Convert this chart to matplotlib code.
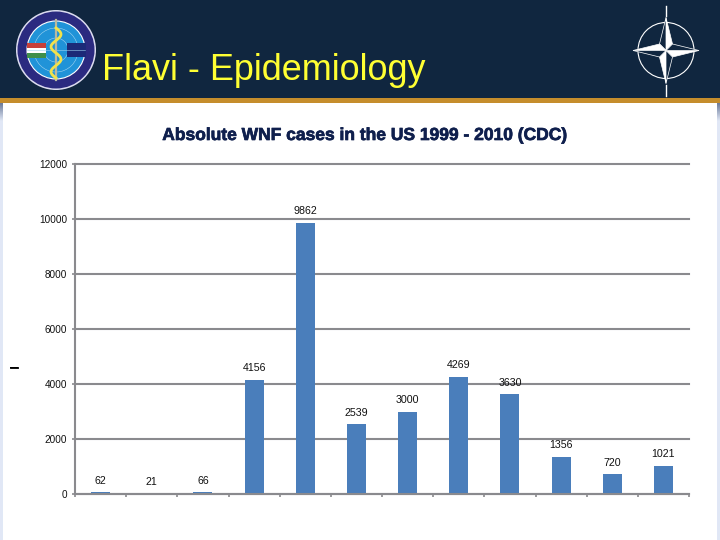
import numpy as np
import matplotlib
matplotlib.use("Agg")
import matplotlib.pyplot as plt
import matplotlib.patheffects as pe
from matplotlib.colors import LinearSegmentedColormap
from matplotlib.patches import Circle, Polygon, Rectangle

plt.rcParams['font.family'] = ['Liberation Sans', 'DejaVu Sans']

years = [1999, 2000, 2001, 2002, 2003, 2004, 2005, 2006, 2007, 2008, 2009, 2010]
cases = [62, 21, 66, 4156, 9862, 2539, 3000, 4269, 3630, 1356, 720, 1021]
y_ticks = [0, 2000, 4000, 6000, 8000, 10000, 12000]

W, H = 720, 540
fig = plt.figure(figsize=(7.2, 5.4), dpi=100, facecolor="white")

# Slide background in pixel coordinates
bg = fig.add_axes([0, 0, 1, 1], zorder=0)
bg.axis("off")

navy = "#10263f"
grey = "#8a8a8e"
bg.add_patch(Rectangle((0, 0), W, 98, color=navy, lw=0))
bg.add_patch(Rectangle((0, 98), W, 5, color="#c58d2c", lw=0))

# Side strips fade from dark to light blue at the top
strip = LinearSegmentedColormap.from_list("strip", ["#6d7d9c", "#e1e8f6"])
fade = np.minimum(np.linspace(0, 1, 437) * 25, 1).reshape(-1, 1)
for left in [0, 717]:
    bg.imshow(fade, cmap=strip, extent=(left, left + 3, H, 103), aspect="auto", zorder=1)

bg.set_xlim(0, W)
bg.set_ylim(H, 0)

bg.text(102.5, 79.5, "Flavi - Epidemiology", color="#ffff33", fontsize=25.9, va="baseline", ha="left")
bg.text(14, 367.5, "\u2013", color="black", fontsize=11, weight="bold", ha="center", va="center",
        path_effects=[pe.withStroke(linewidth=0.6, foreground="black")])

# Left logo
cx, cy = 56, 50
bg.add_patch(Circle((cx, cy), 40, fc="#dcdcf0", ec="none"))
bg.add_patch(Circle((cx, cy), 38.5, fc="#2b2a80", ec="none"))
bg.add_patch(Circle((cx, cy), 29, fc="#2093d8", ec="white", lw=0.8))
for r in [12, 22]:
    bg.add_patch(Circle((cx, cy), r, fc="none", ec="#9fd3f0", lw=0.4))
bg.plot([27, 85], [cy, cy], color="#9fd3f0", lw=0.4)
bg.add_patch(Rectangle((27, 43), 19, 5, color="#c8403a", lw=0))
bg.add_patch(Rectangle((27, 48), 19, 5, color="white", lw=0))
bg.add_patch(Rectangle((27, 53), 19, 5, color="#3f8f4a", lw=0))
bg.add_patch(Rectangle((67, 43), 19, 14, color="#1c2a78", lw=0))
bg.plot([cx, cx], [20, 80], color="#b9b9a0", lw=1.6)
t = np.linspace(0, 1, 60)
bg.plot(cx + 5 * np.sin(t * 4 * np.pi), 28 + t * 50, color="#f2e24a", lw=2)

# NATO compass
nx, ny = 666, 50.5
bg.add_patch(Circle((nx, ny), 28, fc="none", ec="white", lw=0.8))
bg.plot([nx, nx], [6, 16], color="white", lw=1)
bg.plot([nx, nx], [85, 96], color="white", lw=1)
for k in range(4):
    a = k * np.pi / 2
    tip = np.array([np.sin(a), -np.cos(a)])
    side = np.array([np.cos(a), np.sin(a)])
    c = np.array([nx, ny])
    bg.add_patch(Polygon([c, c + 33 * tip, c + 6.5 * (tip + side)], fc="white", ec="white", lw=0.5, zorder=3))
    bg.add_patch(Polygon([c, c + 33 * tip, c + 6.5 * (tip - side)], fc=navy, ec="white", lw=0.5, zorder=3))

# Chart
ax = fig.add_axes([75 / W, 1 - 494 / H, (689 - 75) / W, (494 - 164) / H], zorder=1)
ax.patch.set_alpha(0)
x = np.arange(len(years))
ax.bar(x, cases, width=0.37, color="#4a7ebb", zorder=2)
ax.set_xlim(-0.5, len(years) - 0.5)
ax.set_ylim(0, 12000)
ax.set_yticks(y_ticks)
ax.set_xticks(np.arange(len(years) + 1) - 0.5)
ax.set_xticklabels([])
ax.grid(axis="y", color=grey, lw=1.5, zorder=1)
ax.set_axisbelow(True)
for line in ax.get_ygridlines():
    line.set_clip_on(False)
for s in ["top", "right"]:
    ax.spines[s].set_visible(False)
for s in ["left", "bottom"]:
    ax.spines[s].set_color(grey)
    ax.spines[s].set_linewidth(1.5)
    ax.spines[s].set_zorder(4)
ax.tick_params(axis="both", color=grey, width=1.2, length=2.4, labelsize=7.2, pad=3.3, labelcolor="#111111")

for xi, v in zip(x, cases):
    ax.annotate(str(v), (xi, v), xytext=(0, 8.3), textcoords="offset points",
                ha="center", va="center", fontsize=7.7, color="#111111", zorder=5)

bg.text(364.5, 135.5, "Absolute WNF cases in the US 1999 - 2010 (CDC)", color="#0f1f4d",
        fontsize=12.55, weight="bold", ha="center", va="center",
        path_effects=[pe.withStroke(linewidth=0.5, foreground="#0f1f4d")])

fig.savefig("out.png", dpi=100)
